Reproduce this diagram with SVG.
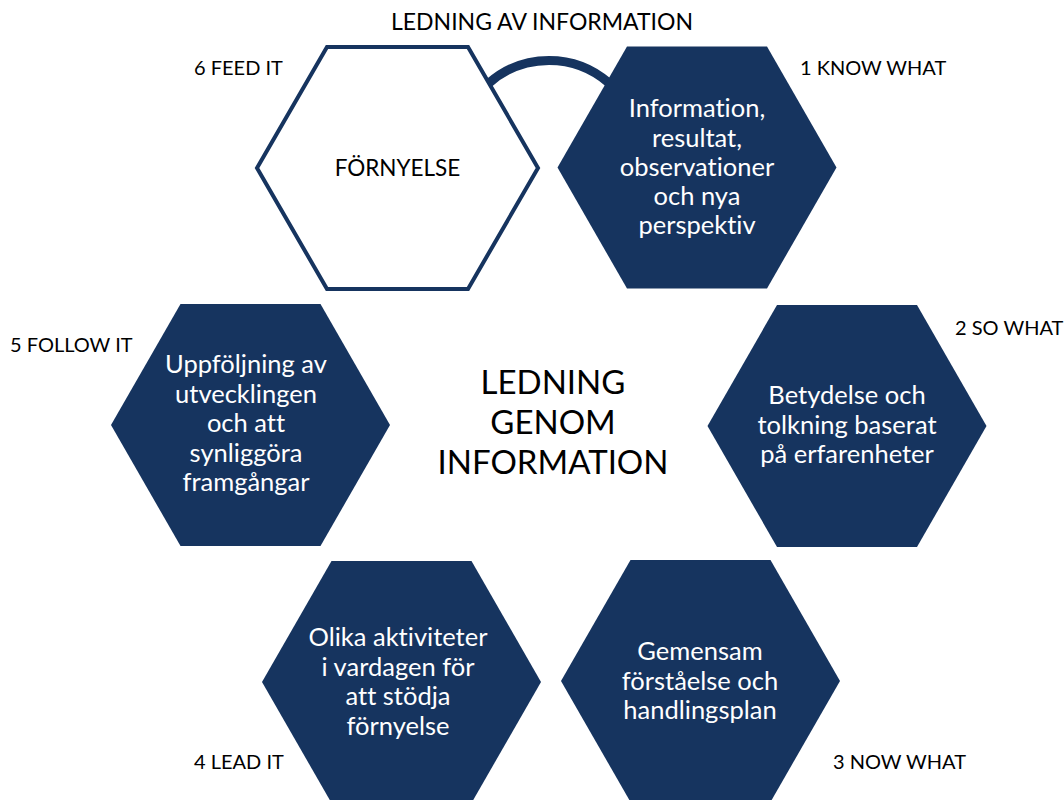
<svg xmlns="http://www.w3.org/2000/svg" xmlns:xlink="http://www.w3.org/1999/xlink" width="1064" height="800" viewBox="0 0 1064 800">
  <style>
    text { font-family: Lato, "Open Sans", "Liberation Sans", sans-serif; text-anchor: middle; font-variant-ligatures: none; }
    .hexfill { fill: #16345f; }
    .hexline { fill: #ffffff; stroke: #16345f; stroke-width: 4; stroke-linejoin: miter; }
    .w { fill: #ffffff; font-size: 25.5px; }
    .lbl { fill: #000000; font-size: 20px; text-anchor: start; }
    .title { fill: #000000; font-size: 23px; }
    .ctr { fill: #000000; font-size: 33px; }
    .conn { fill: none; stroke: #16345f; stroke-width: 9; }
  </style>
  <defs>
    <polygon id="hex" points="-139.5,0 -70,-121 70,-121 139.5,0 70,121 -70,121"/>
    <polygon id="hexo" points="-140.5,0 -70.5,-121 70.5,-121 140.5,0 70.5,121 -70.5,121"/>
  </defs>

  <rect width="1064" height="800" fill="#ffffff"/>

  <g id="connectors">
    <path class="conn" d="M 489 83 A 91 91 0 0 1 609 83"/>
  </g>

  <text class="title" x="542" y="30">LEDNING AV INFORMATION</text>

  <g id="node-fornyelse">
    <use xlink:href="#hexo" class="hexline" transform="translate(397.5,168)"/>
    <text x="397.5" y="175.5" style="fill:#000;font-size:22.5px">FÖRNYELSE</text>
  </g>

  <g id="node-1">
    <use xlink:href="#hex" class="hexfill" transform="translate(697,167.5)"/>
    <text class="w" x="697" y="117">Information,</text>
    <text class="w" x="697" y="146.5">resultat,</text>
    <text class="w" x="697" y="176">observationer</text>
    <text class="w" x="697" y="205">och nya</text>
    <text class="w" x="697" y="234">perspektiv</text>
  </g>

  <g id="node-2">
    <use xlink:href="#hex" class="hexfill" transform="translate(847,426)"/>
    <text class="w" x="847" y="404">Betydelse och</text>
    <text class="w" x="847" y="433.5">tolkning baserat</text>
    <text class="w" x="847" y="463">på erfarenheter</text>
  </g>

  <g id="node-3">
    <use xlink:href="#hex" class="hexfill" transform="translate(700.5,681)"/>
    <text class="w" x="700" y="660">Gemensam</text>
    <text class="w" x="700" y="690">förståelse och</text>
    <text class="w" x="700" y="719">handlingsplan</text>
  </g>

  <g id="node-4">
    <use xlink:href="#hex" class="hexfill" transform="translate(401.5,682)"/>
    <text class="w" x="398" y="646">Olika aktiviteter</text>
    <text class="w" x="398" y="675.5">i vardagen för</text>
    <text class="w" x="398" y="705">att stödja</text>
    <text class="w" x="398" y="734.5">förnyelse</text>
  </g>

  <g id="node-5">
    <use xlink:href="#hex" class="hexfill" transform="translate(250.5,425)"/>
    <text class="w" x="246" y="373">Uppföljning av</text>
    <text class="w" x="246" y="402.5">utvecklingen</text>
    <text class="w" x="246" y="432">och att</text>
    <text class="w" x="246" y="461.5">synliggöra</text>
    <text class="w" x="246" y="491">framgångar</text>
  </g>

  <g id="center-label">
    <text class="ctr" x="553" y="394">LEDNING</text>
    <text class="ctr" x="553" y="434">GENOM</text>
    <text class="ctr" x="553" y="474">INFORMATION</text>
  </g>

  <g id="labels">
    <text class="lbl" x="194" y="75">6 FEED IT</text>
    <text class="lbl" x="800" y="75">1 KNOW WHAT</text>
    <text class="lbl" x="10" y="352">5 FOLLOW IT</text>
    <text class="lbl" x="955" y="335">2 SO WHAT</text>
    <text class="lbl" x="194" y="769">4 LEAD IT</text>
    <text class="lbl" x="833" y="769">3 NOW WHAT</text>
  </g>
</svg>
